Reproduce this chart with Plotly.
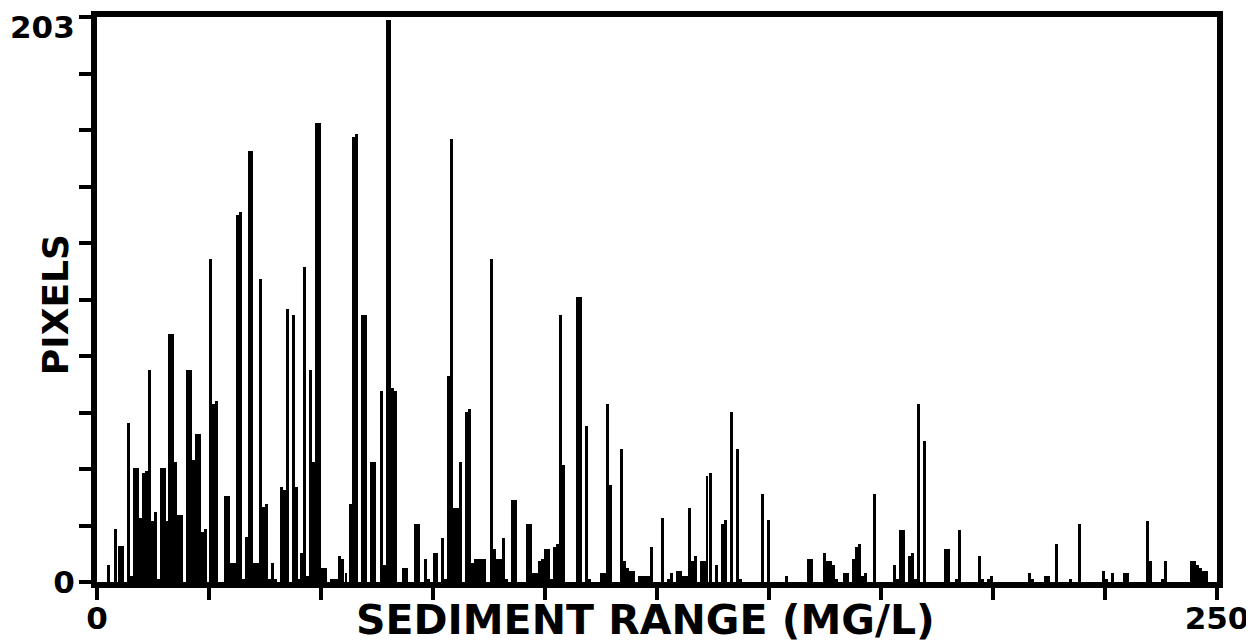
import plotly.graph_objects as go

# Sediment concentration (MG/L) at the centre of each non-empty histogram column
sediment_mgl = [
    2.57, 4.13, 5.02, 5.69, 7.03, 7.70, 8.37, 9.04, 9.71, 10.38, 11.05, 11.72, 12.39, 13.06, 13.73,
    14.40, 14.96, 15.51, 16.18, 16.85, 17.52, 18.19, 18.86, 20.20, 20.87, 21.54, 22.21, 22.88, 23.55,
    24.22, 25.33, 26.00, 26.67, 28.68, 29.35, 30.02, 30.69, 31.36, 32.03,
    32.70, 33.37, 34.04, 34.60, 35.16, 35.83, 36.50, 37.17, 37.83, 38.50, 39.17, 39.84, 41.18, 41.85,
    42.52, 43.86, 44.53, 45.09, 45.65, 46.32, 46.99, 47.66, 48.33, 48.99, 49.66, 50.33, 51.00, 52.34,
    53.01, 53.68, 54.13, 54.80, 55.58, 56.58, 57.25, 57.92, 59.26, 59.93, 61.27, 61.94,
    63.50, 64.17, 64.79, 65.36, 65.96, 66.63, 68.42, 69.08, 71.09, 71.76, 73.33, 74.00, 75.33, 75.89,
    77.12, 77.79, 78.46, 79.13, 79.80, 80.47, 81.14, 82.48, 83.15, 83.82, 84.49, 85.16, 85.83, 86.50,
    88.06, 88.73, 89.40, 90.07, 90.74, 91.41, 92.75, 93.42,
    96.09, 96.76, 97.43, 98.10, 98.77, 99.44, 100.11, 100.78, 101.45, 102.12, 102.79, 103.46, 104.13,
    107.25, 107.92, 109.26, 109.93, 112.61, 113.28, 113.95, 114.62, 117.08, 117.75, 118.42, 119.08,
    119.75, 121.09, 121.76, 122.43, 123.10, 123.77,
    126.23, 127.57, 128.24, 129.58, 130.25, 130.92, 131.58, 132.25, 132.92, 133.59, 134.93, 135.60,
    136.16, 136.94, 138.28, 139.62, 140.29, 141.63, 142.97, 143.64, 148.55, 149.89, 153.91,
    158.82, 159.49, 162.39, 163.06, 163.73, 164.40, 165.07, 166.85, 167.52, 168.86, 169.53, 170.20,
    170.87, 171.54, 173.55, 178.01, 178.68, 179.35, 180.02, 181.36, 182.03, 182.70, 183.37, 184.71,
    189.40, 190.07, 191.85, 192.52, 196.99, 197.66, 199.00, 199.67, 208.15, 208.82, 211.72, 212.39,
    214.17, 217.30, 219.31,
    224.67, 225.33, 226.67, 229.35, 230.02, 234.49, 235.16, 237.83, 238.50, 244.31, 244.98, 245.65,
    246.32, 246.99, 247.66,
]

# Pixel counts for each column
pixel_count = [
    6, 19, 13, 13, 57, 2, 41, 41, 23, 39, 40, 76, 22, 25, 1,
    41, 41, 22, 89, 89, 43, 24, 24, 76, 76, 44, 53, 53, 18,
    19, 116, 64, 65, 31, 31, 7, 7, 132, 133,
    1, 16, 155, 155, 7, 7, 109, 27, 28, 1, 7, 1, 34, 33,
    98, 96, 34, 1, 10.5, 113, 2, 76, 43, 165, 165, 5, 5, 1,
    1, 1, 9.4, 8.3, 3.4, 28, 160, 161, 96, 96, 43, 43,
    68.5, 6, 202, 202, 69.6, 68.5, 5, 5, 21, 21, 8.3, 1, 10.5, 10.5,
    15.7, 1, 74, 159, 26.5, 26.5, 43, 61, 62, 7, 8.3, 8.3, 8.3, 8.3,
    116, 11.7, 8.3, 8.3, 15.7, 1, 29.4, 29.4,
    21, 21, 3.4, 3.4, 7.4, 8.3, 11.7, 11.7, 1, 12.6, 13.7, 96, 42,
    102.5, 102.5, 56, 1, 3.4, 3.4, 64, 35, 47.7, 7.4, 5.1, 4,
    4, 2.3, 2.3, 2.3, 2.3, 12.6,
    23, 1, 3.4, 4, 4, 2.3, 2.3, 26.5, 7.4, 9.4, 7.4, 7.4,
    38, 39, 6, 20.8, 22.2, 61, 47.7, 1, 31.6, 22.2, 2.3,
    8.3, 8.3, 10.5, 7.4, 7.4, 6, 1, 3.4, 3.4, 8.3, 12.6, 13.7,
    2.3, 3.4, 31.6, 6, 1, 18.8, 18.8, 9.4, 10.5, 1, 64, 50.8,
    11.7, 11.7, 1, 18.8, 9.4, 1, 1, 2.3, 3.4, 1, 2.3, 2.3,
    13.7, 1, 20.8,
    4, 1, 3.4, 3.4, 3.4, 22, 7.4, 1, 7.4, 7.4, 7.4, 6,
    5, 4, 4,
]

x_tick_values = [0, 25, 50, 75, 100, 125, 150, 175, 200, 225, 250]
x_tick_labels = ["0", "", "", "", "", "", "", "", "", "", "250"]
y_tick_values = [0, 20.3, 40.6, 60.9, 81.2, 101.5, 121.8, 142.1, 162.4, 182.7, 203]
y_tick_labels = ["0", "", "", "", "", "", "", "", "", "", ""]
y_max_label = "203"

x_title = "SEDIMENT RANGE (MG/L)"
y_title = "PIXELS"

FONT = "DejaVu Sans"

fig = go.Figure()
fig.add_trace(go.Bar(
    x=sediment_mgl,
    y=pixel_count,
    width=0.66,
    marker=dict(color="black", line=dict(width=0)),
    showlegend=False,
))

axis_common = dict(
    tickmode="array",
    ticks="outside",
    ticklen=12,
    tickwidth=4,
    tickcolor="black",
    showline=True,
    linewidth=6,
    linecolor="black",
    mirror=True,
    showgrid=False,
    zeroline=False,
    automargin=False,
    ticklabeloverflow="allow",
    tickfont=dict(family=FONT, size=31, color="black", weight="bold"),
    fixedrange=True,
)

# The page body adds an 8 px offset, so the figure is sized to fit inside it.
fig.update_layout(
    width=1246,
    height=636,
    autosize=False,
    margin=dict(l=89, r=37, t=9, b=62, pad=0),
    paper_bgcolor="white",
    plot_bgcolor="white",
    bargap=0,
    xaxis=dict(range=[0, 250], tickvals=x_tick_values, ticktext=x_tick_labels,
               ticklabelstandoff=-8, **axis_common),
    yaxis=dict(range=[0, 203], tickvals=y_tick_values, ticktext=y_tick_labels,
               ticklabelstandoff=-2, **axis_common),
    annotations=[
        dict(
            text=x_title, xref="paper", yref="paper", x=0.49, y=-0.067,
            xanchor="center", yanchor="middle", showarrow=False,
            font=dict(family=FONT, size=41, color="black", weight="bold"),
        ),
        dict(
            text=y_title, xref="paper", yref="paper", x=-0.0375, y=0.49,
            xanchor="center", yanchor="middle", showarrow=False, textangle=-90,
            font=dict(family=FONT, size=36, color="black", weight="bold"),
        ),
        dict(
            text=y_max_label, xref="paper", yref="paper", x=-0.019, y=1.0159,
            xanchor="right", yanchor="top", showarrow=False, borderpad=0,
            font=dict(family=FONT, size=31, color="black", weight="bold"),
        ),
    ],
)

fig.write_html("out.html")
